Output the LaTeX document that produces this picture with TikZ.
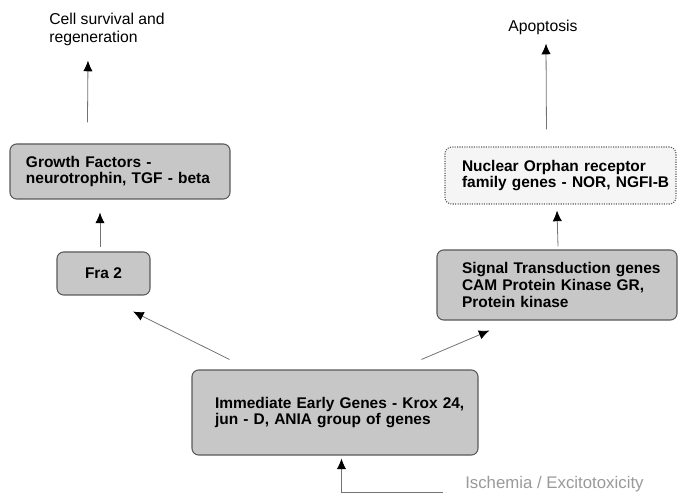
\documentclass[tikz,border=0pt]{standalone}
\usepackage{fontspec}
\setmainfont{Liberation Sans}
\usetikzlibrary{arrows.meta,calc}
\begin{document}
\begin{tikzpicture}[x=0.75pt,y=-0.75pt,
  box/.style={draw=black!65, line width=0.8pt, rounded corners=5pt, fill=black!22,
    font=\fontsize{11.6}{12.6}\selectfont\bfseries, align=left, inner ysep=0pt},
  lightbox/.style={box, fill=black!4, densely dotted},
  lbl/.style={font=\fontsize{11.8}{13.5}\selectfont, align=left, inner sep=0pt},
  arr/.style={draw=black!55, line width=0.6pt, -{Latex[black,length=8pt,width=7pt]}}]
\useasboundingbox (0,0) rectangle (678,495);
% boxes (widths in pt = px*0.75)
\node[box, minimum width=165pt, minimum height=41.25pt, inner xsep=12pt, text width=141pt] (gf) at (120,171.5)
  {\mbox{Growth Factors -}\\\mbox{neurotrophin, TGF - beta}};
\node[lightbox, minimum width=173.25pt, minimum height=42.75pt, inner xsep=12.75pt, text width=147.75pt] (nor) at (560.5,175.5)
  {\mbox{Nuclear Orphan receptor}\\\mbox{family genes - NOR, NGFI-B}};
\node[box, minimum width=180pt, minimum height=52.5pt, inner xsep=18.75pt, text width=142.5pt] (sig) at (557,285)
  {\mbox{Signal Transduction genes}\\\mbox{CAM Protein Kinase GR,}\\\mbox{Protein kinase}};
\node[box, minimum width=69.75pt, minimum height=32.25pt, align=center] (fra) at (103.5,273.5) {Fra 2};
\node[box, minimum width=214.5pt, minimum height=63.75pt, inner xsep=17.25pt, text width=180pt] (ieg) at (335,412.5)
  {\mbox{Immediate Early Genes - Krox 24,}\\\mbox{jun - D, ANIA group of genes}};
% labels
\node[lbl, anchor=west] (cell) at (49,29) {Cell survival and\\regeneration};
\node[lbl] (apo) at (543,27) {Apoptosis};
\node[lbl, anchor=west, text=black!40, font=\fontsize{12.6}{14}\selectfont] (isch) at (465,484) {Ischemia / Excitotoxicity};
% connectors
\draw[arr] ($(gf.north west)+(78,-21)$) -- ($(cell.south west)+(39,15)$);
\draw[arr] ($(fra.north)+(-3.5,-4)$) -- ($(gf.south)+(-20,13)$);
\draw[arr] ($(nor.north west)+(102,-17)$) -- ($(apo.south)+(3,9)$);
\draw[arr] ($(sig.north)+(1,-3)$) -- ($(nor.south)+(-3.5,6)$);
\draw[arr] ($(ieg.north west)+(38,-10)$) -- ($(fra.south)+(29.5,16)$);
\draw[arr] ($(ieg.north west)+(230,-10)$) -- ($(sig.south west)+(53,10)$);
\coordinate (iend) at ($(isch.west)+(-22,8)$);
\draw[arr] (iend) -| ($(ieg.south west)+(150,3)$);
\end{tikzpicture}
\end{document}
